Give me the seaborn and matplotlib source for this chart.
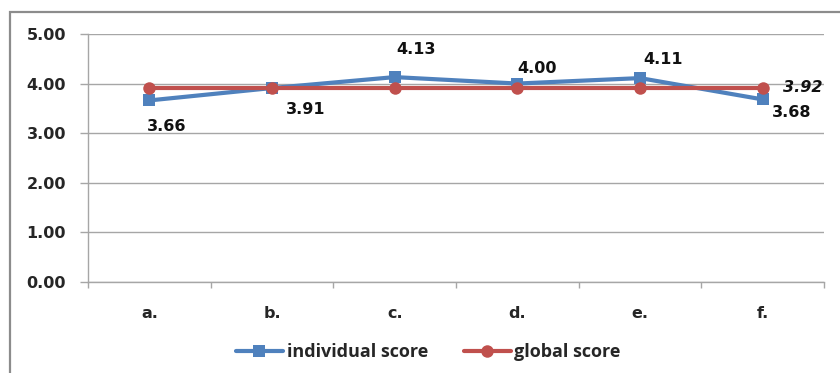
import numpy as np
import pandas as pd
import matplotlib
matplotlib.use('Agg')
import matplotlib.pyplot as plt
import seaborn as sns
from matplotlib.lines import Line2D
from matplotlib.patches import Rectangle

categories = ['a.', 'b.', 'c.', 'd.', 'e.', 'f.']
individual = [3.66, 3.91, 4.13, 4.00, 4.11, 3.68]
global_score = [3.92, 3.92, 3.92, 3.92, 3.92, 3.92]
y_ticks = [0, 1, 2, 3, 4, 5]

BLUE = '#4F81BD'
RED = '#C0504D'
GRID = '#A6A6A6'

sns.set_style('white')
plt.rcParams['font.family'] = ['DejaVu Sans']

df = pd.DataFrame({
    'cat': categories * 2,
    'pos': list(range(len(categories))) * 2,
    'score': individual + global_score,
    'series': ['individual score'] * 6 + ['global score'] * 6,
})

fig = plt.figure(figsize=(8.4, 3.73), dpi=100)
ax = fig.add_axes([0.1048, 0.244, 0.8762, 0.665])

# outer chart frame (Excel style)
fig.patches.append(Rectangle((0.012, -0.1), 1.2, 1.068, transform=fig.transFigure,
                             fill=False, edgecolor='#8C8C8C', linewidth=1.6))

sns.lineplot(data=df, x='pos', y='score', hue='series', style='series',
             palette={'individual score': BLUE, 'global score': RED},
             markers={'individual score': 's', 'global score': 'o'},
             dashes=False, linewidth=3, markersize=9, markeredgewidth=0,
             hue_order=['individual score', 'global score'], legend=False, ax=ax)

ax.set_xlim(-0.5, len(categories) - 0.5)
ax.set_ylim(0, 5)
ax.set_yticks(y_ticks)
ax.set_yticklabels([f'{v:.2f}' for v in y_ticks], fontsize=11.5, fontweight='bold')
ax.set_xticks(range(len(categories)))
ax.set_xticklabels(categories, fontsize=11.5, fontweight='bold')
ax.tick_params(axis='x', length=0, pad=17)
ax.tick_params(axis='y', length=5.8, color=GRID, width=1, pad=10, direction='out', left=True)
ax.set_xticks(np.arange(-0.5, len(categories)), minor=True)
ax.tick_params(axis='x', which='minor', length=4.3, color=GRID, width=1, direction='out', bottom=True)
ax.set_xlabel('')
ax.set_ylabel('')
ax.grid(axis='y', color=GRID, linewidth=1)
ax.set_axisbelow(True)
for side in ['top', 'right']:
    ax.spines[side].set_visible(False)
for side in ['left', 'bottom']:
    ax.spines[side].set_color(GRID)
    ax.spines[side].set_linewidth(1)

# data labels
offsets = [(17, -26), (34, -21), (21, 28), (20, 15), (23, 19), (29, -13)]
for i, (v, off) in enumerate(zip(individual, offsets)):
    ax.annotate(f'{v:.2f}', (i, v), xytext=off, textcoords='offset pixels',
                ha='center', va='center', fontsize=11.5, fontweight='bold', color='#111111')
ax.annotate(f'{global_score[-1]:.2f}', (len(categories) - 1, global_score[-1]), xytext=(40, 0),
            textcoords='offset pixels', ha='center', va='center', fontsize=11.5,
            fontweight='bold', fontstyle='italic', color='#111111')

handles = [Line2D([], [], color=BLUE, marker='s', markersize=9, linewidth=3, markeredgewidth=0),
           Line2D([], [], color=RED, marker='o', markersize=9, linewidth=3, markeredgewidth=0)]
fig.legend(handles, ['individual score', 'global score'], loc='center', bbox_to_anchor=(0.51, 0.056),
           ncol=2, frameon=False, prop={'family': 'Open Sans', 'size': 13, 'weight': 'bold'},
           handlelength=2.6, handletextpad=0.2, columnspacing=2.0)

fig.savefig('out.png', dpi=100)
